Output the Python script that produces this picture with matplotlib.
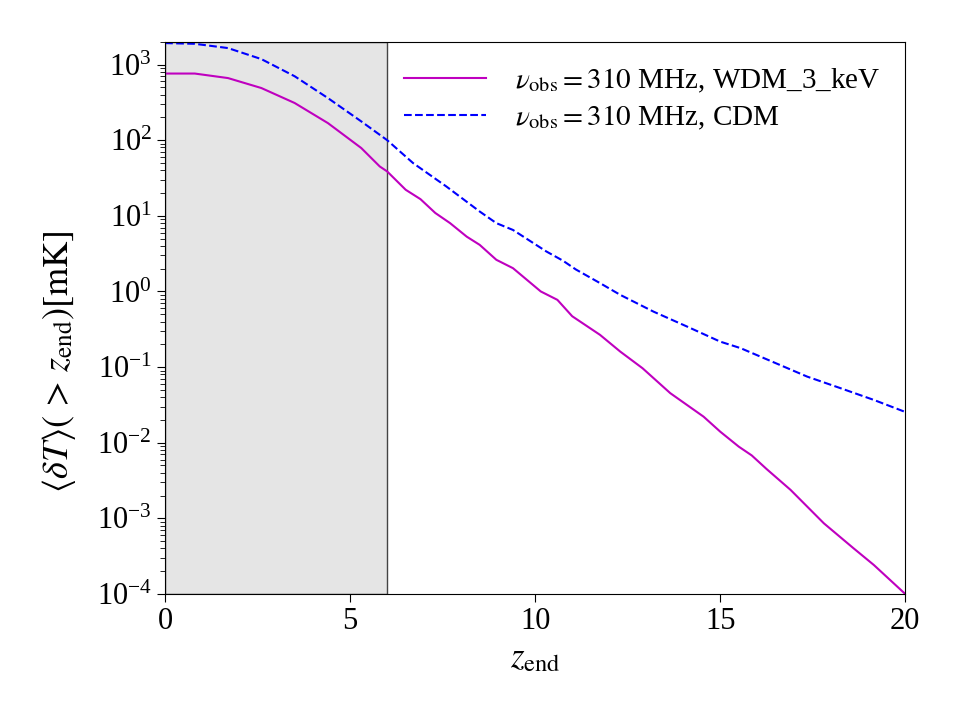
import matplotlib
matplotlib.use("Agg")
import matplotlib.pyplot as plt

plt.rcParams['font.family'] = ['Liberation Serif', 'DejaVu Serif']
plt.rcParams['mathtext.fontset'] = 'stix'
plt.rcParams['xtick.direction'] = 'out'
plt.rcParams['ytick.direction'] = 'out'

z_wdm = [0, 0.8, 1.7, 2.6, 3.5, 4.4, 5.3, 5.8, 6.0, 6.5, 6.9, 7.3, 7.7, 8.15, 8.5,
         8.95, 9.4, 10.15, 10.6, 11.0, 11.75, 12.3, 12.9, 13.65, 14.55, 15.0, 15.5,
         15.85, 16.25, 16.9, 17.8, 18.6, 19.15, 20]
wdm = [760, 760, 662, 489, 310, 168, 78.7, 44.9, 38.6, 22.1, 16.6, 10.9, 8.0, 5.3, 4.13,
       2.62, 2.03, 1.0, 0.774, 0.47, 0.267, 0.160, 0.0966, 0.0452, 0.0221, 0.0140, 0.00888,
       0.0068, 0.0045, 0.00238, 0.00086, 0.000403, 0.000242, 0.0001]
z_cdm = [0, 0.8, 1.7, 2.6, 3.5, 4.4, 5.3, 6.0, 6.7, 7.6, 8.5, 8.95, 9.4, 10.3, 10.75,
         11.1, 11.75, 12.3, 13.2, 14.1, 15.0, 15.55, 16.3, 17.35, 18.25, 19.15, 20]
cdm = [1920, 1880, 1650, 1180, 700, 360, 177, 100, 49.8, 24.4, 11.4, 8.0, 6.5, 3.38, 2.55,
       1.95, 1.29, 0.90, 0.54, 0.344, 0.217, 0.178, 0.124, 0.0748, 0.0526, 0.0368, 0.0255]

fig = plt.figure(figsize=(9.6, 7.2), dpi=100)
ax = fig.add_axes([0.172, 0.175, 0.771, 0.767])

ax.axvspan(0, 6, facecolor='#e5e5e5', edgecolor='#444444', linewidth=1.0, zorder=0)
ax.plot(z_wdm, wdm, color='m', lw=1.5, label=r'$\nu_{\rm obs} = 310$ MHz, WDM_3_keV')
ax.plot(z_cdm, cdm, color='b', lw=1.5, ls='--', label=r'$\nu_{\rm obs} = 310$ MHz, CDM')

ax.set_yscale('log')
ax.set_xlim(0, 20)
ax.set_ylim(1e-4, 2000)
ax.set_xticks([0, 5, 10, 15, 20])
ax.tick_params(axis='both', which='major', labelsize=22, length=6)
ax.tick_params(axis='both', which='minor', length=3.5)
ax.set_xlabel(r'$z_{\rm end}$', fontsize=25)
ax.set_ylabel(r'$\langle \delta T\rangle(\,>\,z_{\rm end})[\rm mK]$', fontsize=26)
ax.yaxis.set_label_coords(-0.118, 0.42)
ax.legend(loc='upper right', frameon=False, fontsize=21, handlelength=2.8,
          handletextpad=1.0, borderaxespad=0.45, labelspacing=0.3)

fig.savefig('out.png', dpi=100)
